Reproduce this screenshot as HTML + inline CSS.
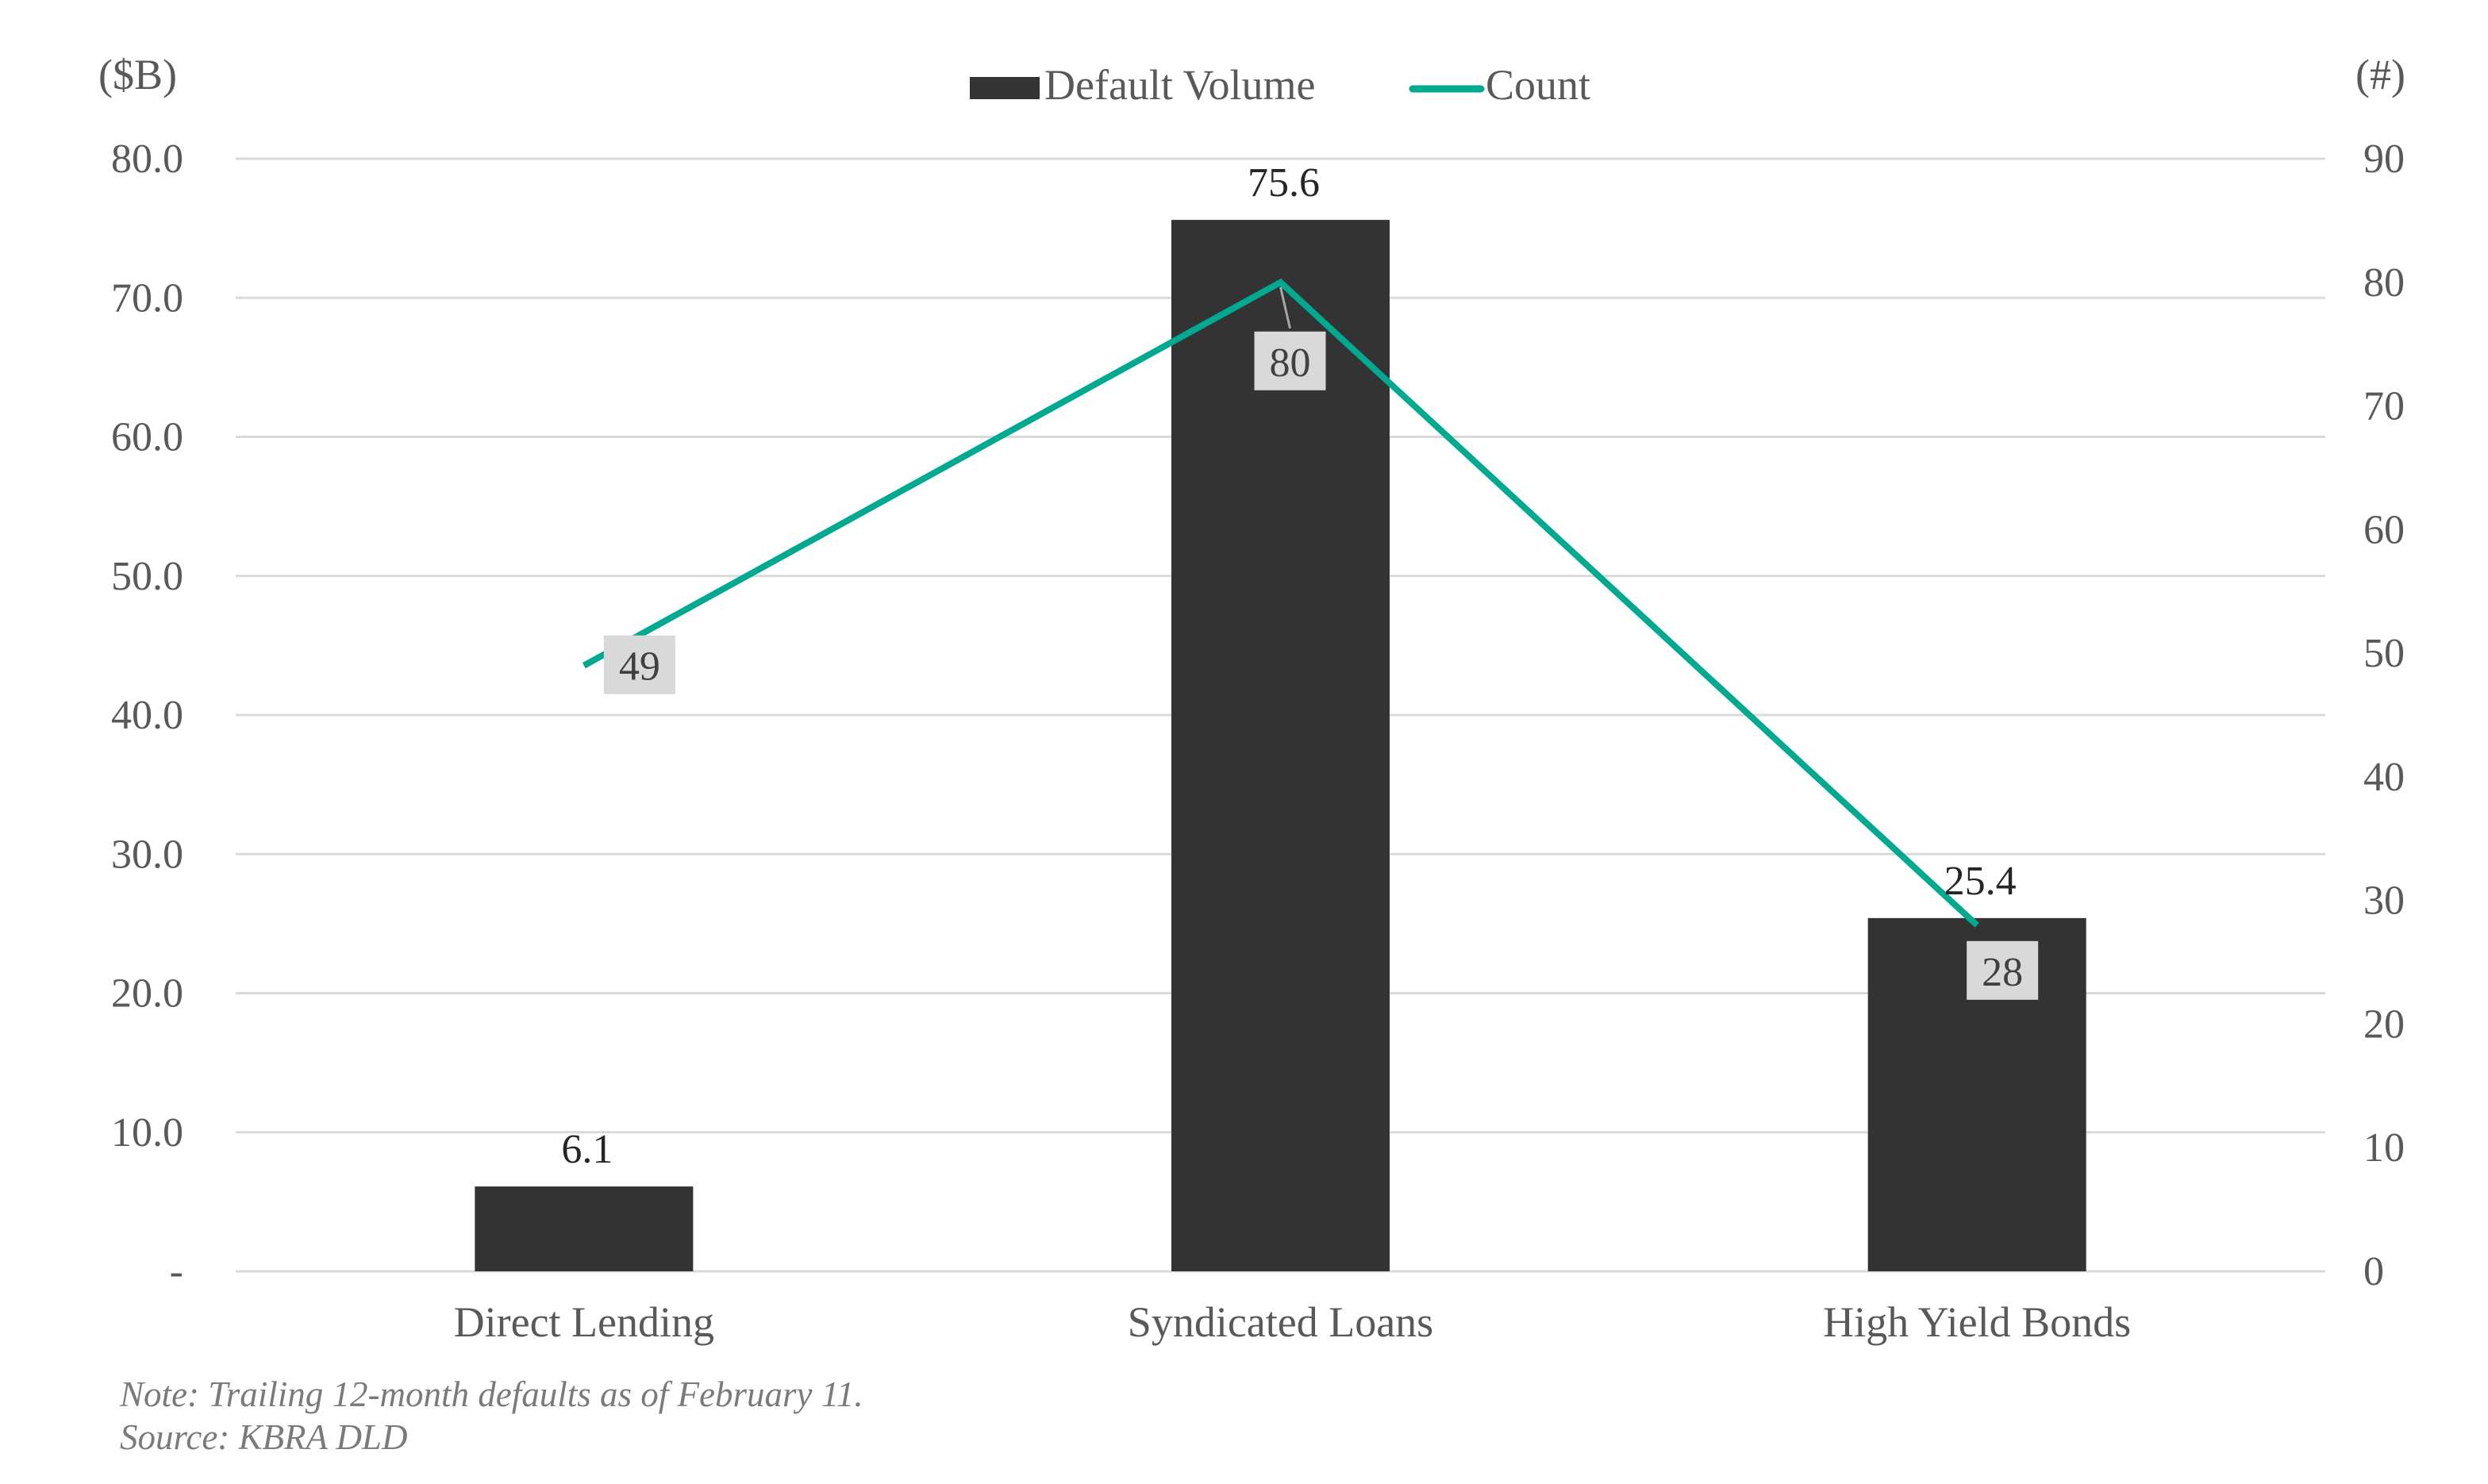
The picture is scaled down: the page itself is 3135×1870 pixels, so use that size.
<!DOCTYPE html>
<html><head><meta charset="utf-8"><style>
html,body{margin:0;padding:0;background:#fff;}
svg{display:block;font-family:"Liberation Serif","DejaVu Serif",serif;}
</style></head><body>
<svg id="chart" width="3135" height="1870" viewBox="0 0 3135 1870" xmlns="http://www.w3.org/2000/svg">
<g id="grid"></g>
<g id="bars"></g>
<g id="line"></g>
<g id="labels"></g>
<text x="124" y="112" font-size="54" fill="#595959">($B)</text>
<text x="2968" y="112" font-size="54" fill="#595959">(#)</text>
<g>
<rect x="1222" y="97" width="88" height="28" fill="#333333"/>
<text x="1316" y="125" font-size="54" fill="#595959">Default Volume</text>
<line x1="1780" y1="112" x2="1866" y2="112" stroke="#00a98f" stroke-width="9" stroke-linecap="round"/>
<text x="1872" y="125" font-size="54" fill="#595959">Count</text>
</g>
<text x="151" y="1772" font-size="45" font-style="italic" fill="#7a7a7a">Note: Trailing 12-month defaults as of February 11.</text>
<text x="151" y="1826" font-size="45" font-style="italic" fill="#7a7a7a">Source: KBRA DLD</text>
<script>
const categories = ["Direct Lending","Syndicated Loans","High Yield Bonds"];
const volumes = [6.1, 75.6, 25.4];
const counts = [49, 80, 28];
const leftTicks = [0,10,20,30,40,50,60,70,80];
const leftTickLabels = ["-","10.0","20.0","30.0","40.0","50.0","60.0","70.0","80.0"];
const rightTicks = [0,10,20,30,40,50,60,70,80,90];

const NS="http://www.w3.org/2000/svg";
const L=297,R=2930,T=200,B=1602;
const yL=v=>B-(v/80)*(B-T);
const yR=v=>B-(v/90)*(B-T);
const bw=(R-L)/categories.length;
const xC=i=>L+bw*(i+0.5);
function mk(tag,attrs,parent,txt){const e=document.createElementNS(NS,tag);for(const k in attrs)e.setAttribute(k,attrs[k]);if(txt!==undefined)e.textContent=txt;parent.appendChild(e);return e;}
const grid=document.getElementById('grid'),bars=document.getElementById('bars'),line=document.getElementById('line'),labels=document.getElementById('labels'),svg=document.getElementById('chart');
leftTicks.forEach((t,i)=>{
  const g=mk('line',{x1:L,x2:R,y1:yL(t),y2:yL(t),stroke:'#d9d9d9','stroke-width':3},grid);
  
  
  const tx=mk('text',{x:231,y:yL(t)+17,'text-anchor':'end','font-size':52,fill:'#595959'},svg,leftTickLabels[i]);
  
  
});
rightTicks.forEach(t=>{
  const tx=mk('text',{x:2978,y:yR(t)+17,'font-size':52,fill:'#595959'},svg,String(t));
  
  
});
const barW=275;
volumes.forEach((v,i)=>{
  const r=mk('rect',{x:xC(i)-barW/2,y:yL(v),width:barW,height:B-yL(v),fill:'#333333'},bars);
  
  
  const t=mk('text',{x:xC(i)+4,y:yL(v)-30,'text-anchor':'middle','font-size':52,fill:'#262626'},labels,v.toFixed(1));
  
  
  const c=mk('text',{x:xC(i),y:1684,'text-anchor':'middle','font-size':54,fill:'#595959'},svg,categories[i]);
  
  
});
const pts=counts.map((c,i)=>xC(i)+','+yR(c)).join(' ');
const pl=mk('polyline',{points:pts,fill:'none',stroke:'#00a98f','stroke-width':8,'stroke-linejoin':'miter'},line);


const offs=[[70,0],[12,100],[32,58]];
counts.forEach((c,i)=>{
  const cx=xC(i)+offs[i][0], cy=yR(c)+offs[i][1];
  if(i===1){const ld=mk('line',{x1:xC(i),y1:yR(c)+6,x2:cx,y2:cy-42,stroke:'#a6a6a6','stroke-width':3},labels);
    
    }
  const b=mk('rect',{x:cx-45,y:cy-38,width:90,height:74,fill:'#d9d9d9'},labels);
  
  
  const t=mk('text',{x:cx,y:cy+18,'text-anchor':'middle','font-size':52,fill:'#404040'},labels,String(c));
  
  
});
</script>
</svg>
</body></html>
